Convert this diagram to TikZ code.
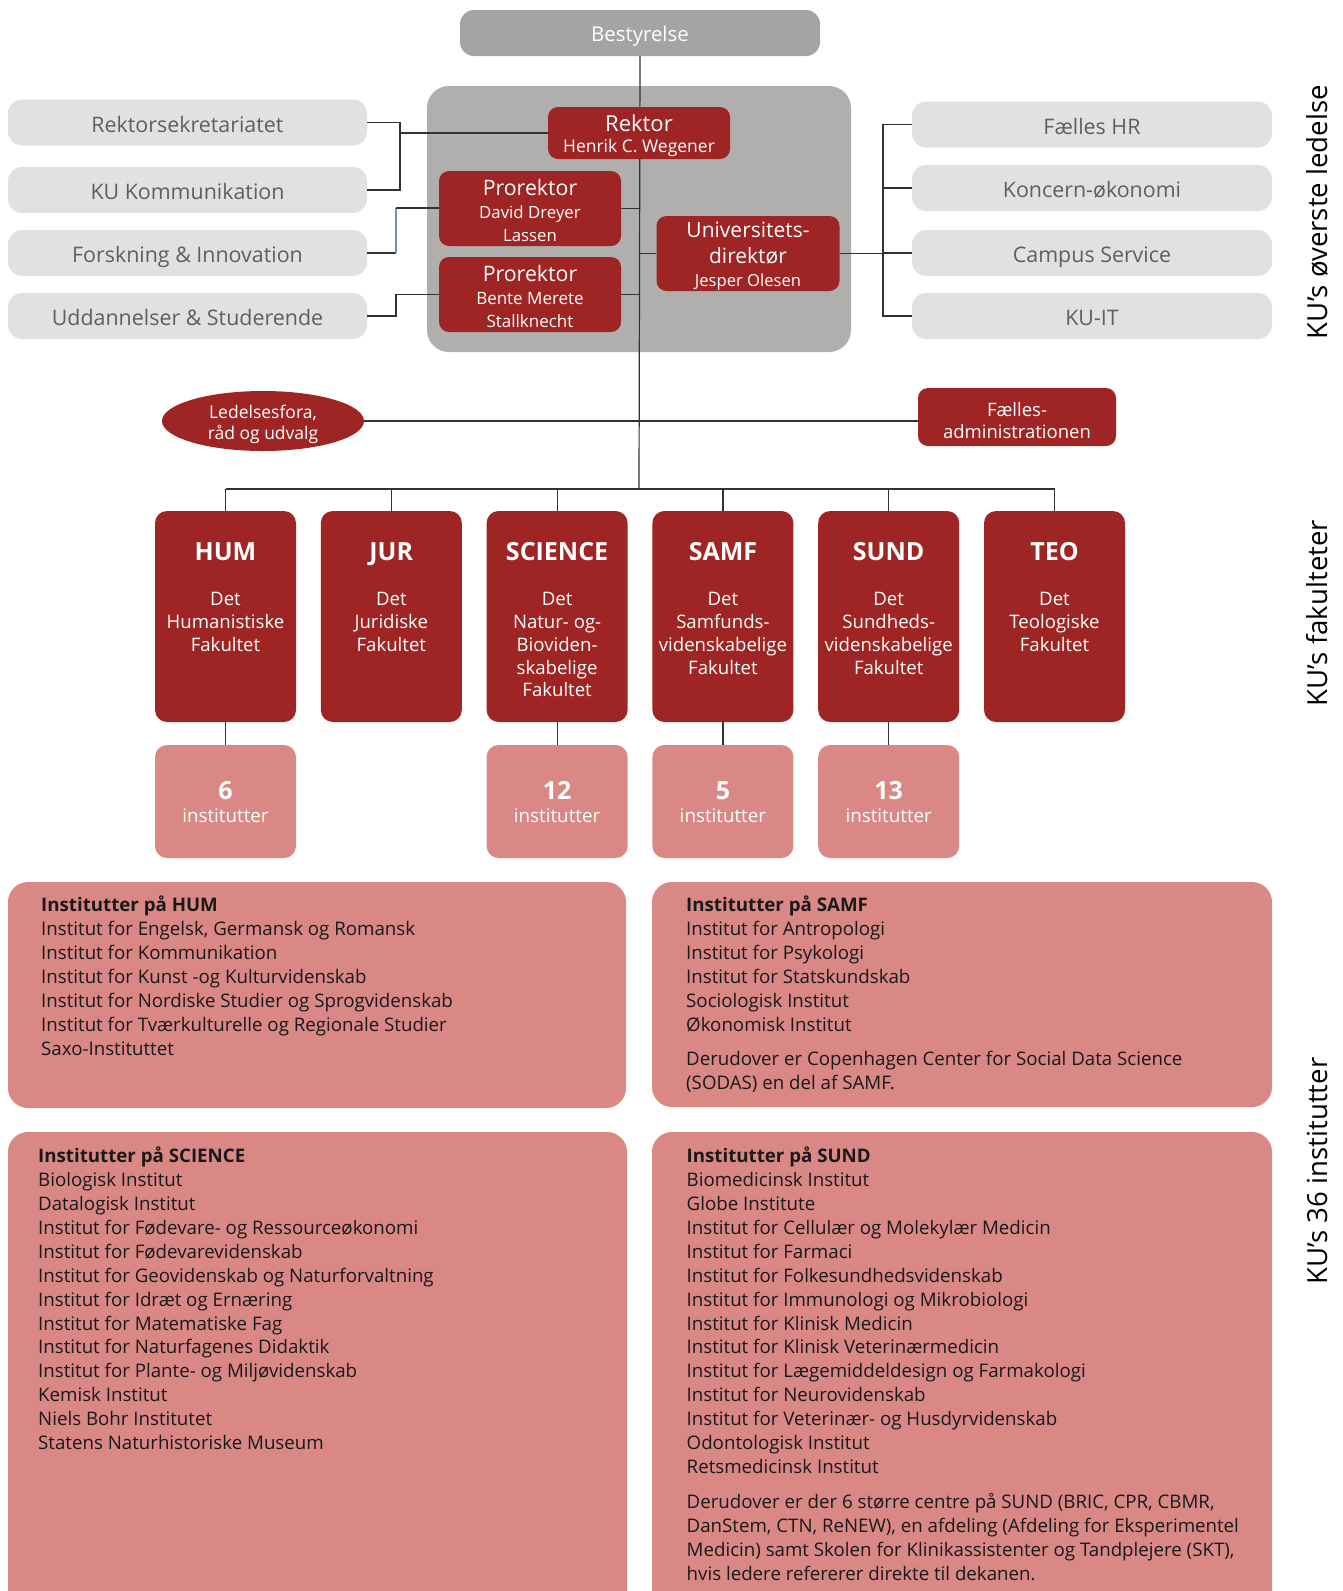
\documentclass[tikz,border=0pt]{standalone}
\usepackage{fontspec}
\setmainfont{Open Sans}
\usetikzlibrary{shapes.geometric,calc}
\definecolor{kured}{RGB}{158,37,35}
\definecolor{kupink}{RGB}{217,136,133}
\definecolor{lgray}{RGB}{225,225,225}
\definecolor{panelgray}{RGB}{176,175,174}
\definecolor{bestgray}{RGB}{165,164,163}
\definecolor{tgray}{RGB}{95,95,95}
\definecolor{linec}{RGB}{50,50,50}
\definecolor{lineblue}{RGB}{110,145,180}
\newcommand{\fs}[2]{\fontsize{#1}{#2}\selectfont}
\begin{document}
\begin{tikzpicture}[x=1pt,y=-1pt,
 lbox/.style={fill=lgray, rounded corners=14pt, minimum width=359pt, minimum height=46pt, inner sep=0pt, text=tgray, font=\fs{21.4}{24}, text height=15.4pt, text depth=0pt},
 lboxtext/.style={text=tgray, font=\fs{21.4}{24}, inner sep=0pt, text height=15.4pt, text depth=0pt},
 rbox/.style={fill=kured, text=white, rounded corners=10pt, inner sep=0pt, align=center},
 fac/.style={fill=kured, rounded corners=12pt, minimum width=141pt, minimum height=211pt, inner sep=0pt},
 factitle/.style={text=white, font=\bfseries\fs{25}{30}, inner sep=0pt, text height=17.9pt, text depth=0pt},
 facbody/.style={text=white, font=\fs{18.6}{22.7}, inner sep=0pt, align=center, anchor=north},
 inst/.style={fill=kupink, rounded corners=12pt, minimum width=141pt, minimum height=113pt, inner sep=0pt},
 instnum/.style={text=white, font=\bfseries\fs{25}{30}, inner sep=0pt},
 insttxt/.style={text=white, font=\fs{18.8}{22}, inner sep=0pt},
 big/.style={fill=kupink, rounded corners=20pt, inner sep=0pt},
 list/.style={text=black!90, font=\fs{18.7}{23.95}, inner sep=0pt, align=left, anchor=north west},
 conn/.style={draw=linec, line width=1.2pt},
 side/.style={rotate=90, font=\fs{27.6}{30}, text=black, inner sep=0pt}
]
\clip (0,0) rectangle (1343,1591);
\fill[white] (0,0) rectangle (1343,1591);

% top management
\node[fill=bestgray, rounded corners=14pt, minimum width=360pt, minimum height=46pt, inner sep=0pt] (best) at (640,33) {};
\node[text=white, font=\fs{20.4}{24}, text height=14.6pt, text depth=0pt, inner sep=0pt] (bestT) at (640,34) {Bestyrelse};
\node[fill=panelgray, rounded corners=22pt, minimum width=424pt, minimum height=266pt, inner sep=0pt] (panel) at (639,219) {};

\coordinate (main) at (639,0);
\coordinate (bus) at (639,489);
\coordinate (lbr) at (400,0);
\coordinate (lbr2) at (396,0);
\coordinate (rbr) at (883,0);

\foreach \n/\y/\t in {rsek/122.5/Rektorsekretariatet, kukom/190/KU Kommunikation, fi/253/Forskning \& Innovation, ud/316/Uddannelser \& Studerende}{
  \node[lbox] (\n) at (187.5,\y) {};
  \node[lboxtext] (\n T) at (187.5,\y+2) {\t};
}
\foreach \n/\y/\t in {hr/124.5/Fælles HR, koncern/188/Koncern-økonomi, campus/253/Campus Service, kuit/316/KU-IT}{
  \node[lbox, minimum width=360pt] (\n) at (1092,\y) {};
  \node[lboxtext] (\n T) at (1092,\y+2) {\t};
}

% connectors (under boxes)
\draw[conn] (best.south) -- (bus);
\draw[conn] (rsek.east) -| (lbr |- kukom.east) -- (kukom.east);
\draw[conn] (fi.east) -- (fi.east -| lbr2);
\draw[conn, draw=lineblue] (fi.east -| lbr2) -- (lbr2 |- 0,208);
\draw[conn] (lbr2 |- 0,208) -- (439,208);
\draw[conn] (ud.east) -| (lbr2 |- 0,294.5) -- (439,294.5);
\draw[conn] (hr.west) -- (hr.west -| rbr) -- (kuit.west -| rbr) -- (kuit.west);
\draw[conn] (koncern.west) -- (koncern.west -| rbr);
\draw[conn] (campus.west) -- (campus.west -| rbr);

\node[rbox, minimum width=182pt, minimum height=52pt, font=\fs{22}{23}] (rektor) at (639,133) {};
\node[text=white, align=center, inner sep=0pt, font=\fs{22}{23}] (rektorT) at (639,135.5)
  {Rektor\\[-1.5pt]{\fs{17.5}{23}Henrik C. Wegener}};
\node[rbox, minimum width=182pt, minimum height=75pt] (pro1) at (530,208.5) {};
\node[text=white, align=center, inner sep=0pt, font=\fs{21.3}{23}] (pro1T) at (530,210)
  {Prorektor\\{\fs{16.8}{23}David Dreyer}\\{\fs{16.8}{23}Lassen}};
\node[rbox, minimum width=182pt, minimum height=75pt] (pro2) at (530,294.5) {};
\node[text=white, align=center, inner sep=0pt, font=\fs{21.3}{23}] (pro2T) at (530,296)
  {Prorektor\\{\fs{17}{23}Bente Merete}\\{\fs{17}{23}Stallknecht}};
\node[rbox, minimum width=183pt, minimum height=75pt] (udir) at (748,253.5) {};
\node[text=white, align=center, inner sep=0pt, font=\fs{21}{26}] (udirT) at (748,256)
  {Universitets-\\direktør\\[-3pt]{\fs{16.6}{23}Jesper Olesen}};

\draw[conn] (rektor.west) -- (rektor.west -| lbr);
\draw[conn] (pro1.east) -- (pro1.east -| main);
\draw[conn] (pro2.east) -- (pro2.east -| main);
\draw[conn] (udir.west) -- (udir.west -| main);
\draw[conn] (udir.east) -- (udir.east -| rbr);

% ledelsesfora / faellesadministration
\node[ellipse, fill=kured, minimum width=202pt, minimum height=60pt, inner sep=0pt] (led) at (263,421) {};
\node[text=white, align=center, font=\fs{17.5}{20.5}, inner sep=0pt] (ledT) at (263,424.5) {Ledelsesfora,\\råd og udvalg};
\node[rbox, minimum width=198pt, minimum height=58pt] (fa) at (1017,417) {};
\node[text=white, align=center, font=\fs{18.5}{22}, inner sep=0pt] (faT) at (1017,421) {Fælles-\\administrationen};
\draw[conn] (led.east) -- (led.east -| fa.west);

% faculties
\foreach \n/\x in {hum/225.5, jur/391.3, sci/557.1, samf/722.9, sund/888.7, teo/1054.5}{
  \node[fac] (\n) at (\x,616.5) {};
}
\draw[conn] (hum.north |- bus) -- (teo.north |- bus);
\foreach \n in {hum,jur,sci,samf,sund,teo}{
  \draw[conn] (\n.north) -- (\n.north |- bus);
}
\node[factitle] (humT) at (225.5,552) {HUM};
\node[factitle] (jurT) at (391.3,552) {JUR};
\node[factitle] (sciT) at (557.1,552) {SCIENCE};
\node[factitle] (samfT) at (722.9,552) {SAMF};
\node[factitle] (sundT) at (888.7,552) {SUND};
\node[factitle] (teoT) at (1054.5,552) {TEO};
\node[facbody] (humB) at (225.5,592.5) {Det\\Humanistiske\\Fakultet};
\node[facbody] (jurB) at (391.3,592.5) {Det\\Juridiske\\Fakultet};
\node[facbody] (sciB) at (557.1,592.5) {Det\\Natur- og-\\Bioviden-\\skabelige\\Fakultet};
\node[facbody] (samfB) at (722.9,592.5) {Det\\Samfunds-\\videnskabelige\\Fakultet};
\node[facbody] (sundB) at (888.7,592.5) {Det\\Sundheds-\\videnskabelige\\Fakultet};
\node[facbody] (teoB) at (1054.5,592.5) {Det\\Teologiske\\Fakultet};

% institute counts
\foreach \n/\x in {humI/225.5, sciI/557.1, samfI/722.9, sundI/888.7}{
  \node[inst] (\n) at (\x,801.5) {};
}
\draw[conn] (hum.south) -- (humI.north);
\draw[conn] (sci.south) -- (sciI.north);
\draw[conn] (samf.south) -- (samfI.north);
\draw[conn] (sund.south) -- (sundI.north);
\node[instnum] (humN) at (225.5,790.5) {6};
\node[instnum] (sciN) at (557.1,790.5) {12};
\node[instnum] (samfN) at (722.9,790.5) {5};
\node[instnum] (sundN) at (888.7,790.5) {13};
\node[insttxt] (humL) at (225.5,816) {institutter};
\node[insttxt] (sciL) at (557.1,816) {institutter};
\node[insttxt] (samfL) at (722.9,816) {institutter};
\node[insttxt] (sundL) at (888.7,816) {institutter};

% lists
\node[big, minimum width=618pt, minimum height=226pt] (humbox) at (317,995) {};
\node[big, minimum width=620pt, minimum height=225pt] (samfbox) at (962,994.5) {};
\node[big, minimum width=619pt, minimum height=500pt] (scibox) at (317.5,1382) {};
\node[big, minimum width=620pt, minimum height=500pt] (sundbox) at (962,1382) {};

\node[list] (humtxt) at (41,895.5) {\textbf{Institutter på HUM}\\
Institut for Engelsk, Germansk og Romansk\\
Institut for Kommunikation\\
Institut for Kunst -og Kulturvidenskab\\
Institut for Nordiske Studier og Sprogvidenskab\\
Institut for Tværkulturelle og Regionale Studier\\
Saxo-Instituttet};

\node[list] (samftxt) at (686,895.5) {\textbf{Institutter på SAMF}\\
Institut for Antropologi\\
Institut for Psykologi\\
Institut for Statskundskab\\
Sociologisk Institut\\
Økonomisk Institut\\[10pt]
Derudover er Copenhagen Center for Social Data Science\\
(SODAS) en del af SAMF.};

\node[list] (scitxt) at (38,1146.5) {\textbf{Institutter på SCIENCE}\\
Biologisk Institut\\
Datalogisk Institut\\
Institut for Fødevare- og Ressourceøkonomi\\
Institut for Fødevarevidenskab\\
Institut for Geovidenskab og Naturforvaltning\\
Institut for Idræt og Ernæring\\
Institut for Matematiske Fag\\
Institut for Naturfagenes Didaktik\\
Institut for Plante- og Miljøvidenskab\\
Kemisk Institut\\
Niels Bohr Institutet\\
Statens Naturhistoriske Museum};

\node[list] (sundtxt) at (686.5,1146.5) {\textbf{Institutter på SUND}\\
Biomedicinsk Institut\\
Globe Institute\\
Institut for Cellulær og Molekylær Medicin\\
Institut for Farmaci\\
Institut for Folkesundhedsvidenskab\\
Institut for Immunologi og Mikrobiologi\\
Institut for Klinisk Medicin\\
Institut for Klinisk Veterinærmedicin\\
Institut for Lægemiddeldesign og Farmakologi\\
Institut for Neurovidenskab\\
Institut for Veterinær- og Husdyrvidenskab\\
Odontologisk Institut\\
Retsmedicinsk Institut\\[11pt]
Derudover er der 6 større centre på SUND (BRIC, CPR, CBMR,\\
DanStem, CTN, ReNEW), en afdeling (Afdeling for Eksperimentel\\
Medicin) samt Skolen for Klinikassistenter og Tandplejere (SKT),\\
hvis ledere refererer direkte til dekanen.};

% side labels
\node[side] (s1) at (1317,212) {KU’s øverste ledelse};
\node[side] (s2) at (1317,613) {KU’s fakulteter};
\node[side] (s3) at (1317,1171) {KU’s 36 institutter};
\end{tikzpicture}
\end{document}
